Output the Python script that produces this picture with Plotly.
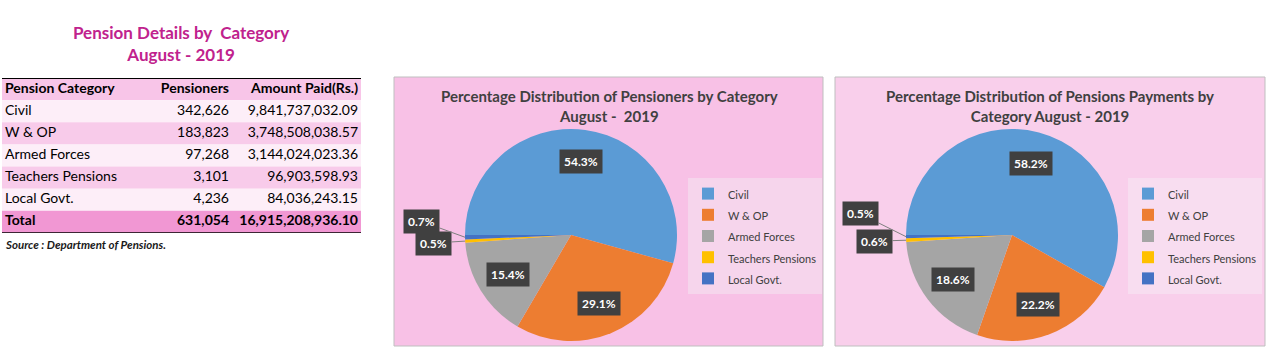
import math
import plotly.graph_objects as go

# ---------------- data ----------------
categories = ["Civil", "W & OP", "Armed Forces", "Teachers Pensions", "Local Govt."]
pensioners = [342626, 183823, 97268, 3101, 4236]
amount_paid = [9841737032.09, 3748508038.57, 3144024023.36, 96903598.93, 84036243.15]
slice_colors = ["#5B9BD5", "#ED7D31", "#A5A5A5", "#FFC000", "#4472C4"]

table_title = ["Pension Details by  Category", "August - 2019"]
pie1_title = ["Percentage Distribution of Pensioners by Category", "August -  2019"]
pie2_title = ["Percentage Distribution of Pensions Payments by", "Category August - 2019"]
header_labels = ["Pension Category", "Pensioners", "Amount Paid(Rs.)"]
total_label = "Total"
source_note = "Source : Department of Pensions."

# ---------------- layout constants ----------------
W, H = 1273, 357
FONT = "Lato"


def px(x):
    return x / W


def py(y):
    return 1 - y / H


PIE1 = dict(cx=571, cy=235, r=106, legend_x=688, legend_y=178, panel="#F8C1E6", legend_bg="#F6D5EC")
PIE2 = dict(cx=1012, cy=235, r=106, legend_x=1128, legend_y=178, panel="#F9CFEB", legend_bg="#F8DDF0")
SMALL_OFFSETS_1 = {4: (-44, -16), 3: (-32, 2)}
SMALL_OFFSETS_2 = {4: (-46, -23), 3: (-32, 1)}
ROTATION = -90

# table geometry (pixels)
TBL_X0, TBL_X1, TBL_Y0, TBL_Y1 = 2, 361, 78, 233
COL_X = [3, 227, 356]
COL_POS = ["middle right", "middle left", "middle left"]
TABLE_FONT = 14

fig = go.Figure()

# ---------------- table ----------------
total_p = sum(pensioners)
total_a = sum(amount_paid)
col1 = [f"<b>{header_labels[0]}</b>"] + categories + [f"<b>{total_label}</b>"]
col2 = [f"<b>{header_labels[1]}</b>"] + [f"{v:,}" for v in pensioners] + [f"<b>{total_p:,}</b>"]
col3 = [f"<b>{header_labels[2]}</b>"] + [f"{v:,.2f}" for v in amount_paid] + [f"<b>{total_a:,.2f}</b>"]
row_fill = ["#F8C5E8", "#FDEEF8", "#F8CBEA", "#FDEEF8", "#F8CBEA", "#FDEEF8", "#F197D3"]
rows = list(range(len(col1)))

for xpos, tpos, col in zip(COL_X, COL_POS, [col1, col2, col3]):
    fig.add_trace(go.Scatter(
        x=[xpos] * len(col), y=rows, mode="text", text=col, textposition=tpos,
        textfont=dict(family=FONT, size=TABLE_FONT, color="#000000"),
        hoverinfo="skip", showlegend=False, cliponaxis=False,
        xaxis="x", yaxis="y",
    ))

shapes = []
for i, c in zip(rows, row_fill):
    shapes.append(dict(type="rect", xref="x domain", yref="y", x0=0, x1=1,
                       y0=i - 0.5, y1=i + 0.5, fillcolor=c, line=dict(width=0), layer="below"))
shapes += [
    dict(type="line", xref="x domain", yref="y", x0=0, x1=1, y0=-0.5, y1=-0.5,
         line=dict(color="#000000", width=2)),
    dict(type="line", xref="x domain", yref="y", x0=0, x1=1,
         y0=len(rows) - 0.5, y1=len(rows) - 0.5, line=dict(color="#000000", width=1.5)),
]


# ---------------- pies ----------------
def add_pie(values, geo, legend_name, group):
    cx, cy, r = geo["cx"], geo["cy"], geo["r"]
    fig.add_trace(go.Pie(
        labels=[f'<span style="font-size:11px">{c}</span>' for c in categories],
        values=values,
        marker=dict(colors=slice_colors, line=dict(width=0)),
        sort=False,
        direction="clockwise",
        rotation=ROTATION,
        textinfo="none",
        hoverinfo="percent",
        domain=dict(x=[px(cx - r), px(cx + r)], y=[py(cy + r), py(cy - r)]),
        legend=legend_name,
        legendgroup=group,
        showlegend=True,
    ))


def label_annotations(values, geo, small_offsets):
    cx, cy, r = geo["cx"], geo["cy"], geo["r"]
    total = sum(values)
    cum = 0
    anns = []
    for i, v in enumerate(values):
        frac = v / total
        mid = cum + frac / 2
        cum += frac
        theta = math.radians(ROTATION + 360 * mid)
        text = f"<b>{frac * 100:.1f}%</b>"
        common = dict(xref="paper", yref="paper", text=text, bgcolor="#404040", borderpad=4,
                      xanchor="center", yanchor="middle",
                      font=dict(family=FONT, size=12, color="#FFFFFF"))
        if i in small_offsets:
            x = cx + r * math.sin(theta)
            y = cy - r * math.cos(theta)
            ax, ay = small_offsets[i]
            anns.append(dict(x=px(x), y=py(y), showarrow=True, arrowhead=0, arrowwidth=1,
                             arrowcolor="#7F7F7F", ax=ax, ay=ay, **common))
        else:
            rho = 0.70 * r
            x = cx + rho * math.sin(theta)
            y = cy - rho * math.cos(theta)
            anns.append(dict(x=px(x), y=py(y), showarrow=False, **common))
    return anns


add_pie(pensioners, PIE1, "legend", "p1")
add_pie(amount_paid, PIE2, "legend2", "p2")

annotations = []
annotations += label_annotations(pensioners, PIE1, SMALL_OFFSETS_1)
annotations += label_annotations(amount_paid, PIE2, SMALL_OFFSETS_2)


def title_ann(lines, x, y, size, color):
    return dict(x=px(x), y=py(y), xref="paper", yref="paper", showarrow=False,
                xanchor="center", yanchor="middle",
                text="<b>" + "<br>".join(lines) + "</b>", align="center",
                font=dict(family=FONT, size=size, color=color))


annotations.append(title_ann(table_title, 181, 43, 17, "#C0228D"))
annotations.append(title_ann(pie1_title, 609, 106, 15, "#404040"))
annotations.append(title_ann(pie2_title, 1050, 106, 15, "#404040"))
annotations.append(dict(
    x=px(3), y=py(244), xref="paper", yref="paper", showarrow=False,
    xanchor="left", yanchor="middle",
    text=f"<b><i>{source_note}</i></b>",
    font=dict(family=FONT, size=11.5, color="#1A1A1A"),
))

shapes += [
    dict(type="rect", xref="paper", yref="paper", x0=px(394), x1=px(823), y0=py(346), y1=py(77),
         fillcolor=PIE1["panel"], line=dict(color="#BFBFBF", width=1), layer="below"),
    dict(type="rect", xref="paper", yref="paper", x0=px(835), x1=px(1265), y0=py(346), y1=py(77),
         fillcolor=PIE2["panel"], line=dict(color="#BFBFBF", width=1), layer="below"),
]

legend_style = dict(
    xanchor="left", yanchor="top",
    font=dict(family=FONT, size=14, color="#404040"),
    itemclick=False, itemdoubleclick=False,
)

hidden = dict(visible=False, showgrid=False, zeroline=False, fixedrange=True)

fig.update_layout(
    width=W, height=H,
    margin=dict(l=0, r=0, t=0, b=0),
    paper_bgcolor="#FFFFFF",
    plot_bgcolor="rgba(0,0,0,0)",
    font=dict(family=FONT),
    shapes=shapes,
    annotations=annotations,
    xaxis=dict(domain=[px(TBL_X0), px(TBL_X1)], range=[0, TBL_X1 - TBL_X0], **hidden),
    yaxis=dict(domain=[py(TBL_Y1), py(TBL_Y0)], range=[len(rows) - 0.5, -0.5], **hidden),
    legend=dict(x=px(PIE1["legend_x"]), y=py(PIE1["legend_y"]), bgcolor=PIE1["legend_bg"], **legend_style),
    legend2=dict(x=px(PIE2["legend_x"]), y=py(PIE2["legend_y"]), bgcolor=PIE2["legend_bg"], **legend_style),
)

fig.write_html("out.html", post_script="document.body.style.margin='0';",
               config={"displayModeBar": False})
